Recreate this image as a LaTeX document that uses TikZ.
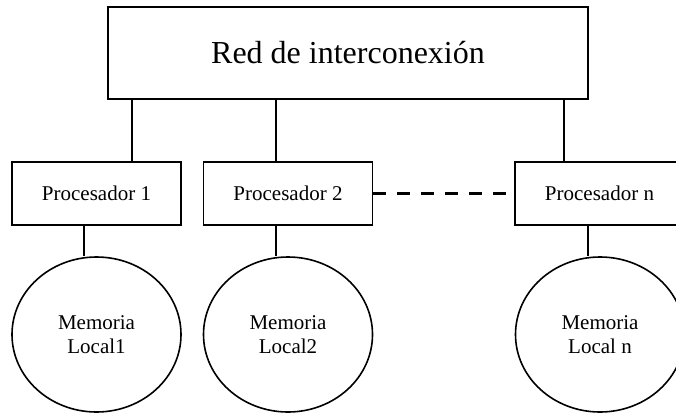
\documentclass[tikz,border=0pt]{standalone}
\usepackage{fontspec}
\setmainfont{Liberation Serif}
\usetikzlibrary{shapes.geometric}
\tikzset{
  boxline/.style={line width=1.6pt},
  netbox/.style={draw, boxline, rectangle, minimum width=480pt, minimum height=92pt, inner sep=0pt, font=\fontsize{32}{38}\selectfont},
  procbox/.style={draw, boxline, rectangle, minimum width=169pt, minimum height=63pt, inner sep=0pt, font=\fontsize{21}{25}\selectfont},
  membox/.style={draw, boxline, ellipse, minimum width=169pt, minimum height=155pt, inner sep=0pt, align=center, font=\fontsize{21}{24}\selectfont},
  link/.style={boxline},
  dashlink/.style={line width=2.6pt, dash pattern=on 13pt off 11pt}
}
\begin{document}
\begin{tikzpicture}[x=1pt,y=-1pt]
\useasboundingbox (0,0) rectangle (676,412);
\node[netbox] (net) at (348,53) {Red de interconexión};
\node[procbox] (p1) at (96.5,193.5) {Procesador 1};
\node[procbox] (p2) at (288,193.5) {Procesador 2};
\node[procbox] (pn) at (599.5,193.5) {Procesador n};
\node[membox] (m1) at (96.5,334.5) {Memoria\\Local1};
\node[membox] (m2) at (288,334.5) {Memoria\\Local2};
\node[membox] (mn) at (600,334.5) {Memoria\\Local n};
\draw[link] (net.south -| 132,0) -- (p1.north -| 132,0);
\draw[link] (net.south -| 276,0) -- (p2.north -| 276,0);
\draw[link] (net.south -| 564,0) -- (pn.north -| 564,0);
\draw[link] (p1.south -| 84,0) -- (m1.north -| 84,0);
\draw[link] (p2.south -| 276,0) -- (m2.north -| 276,0);
\draw[link] (pn.south -| 588,0) -- (mn.north -| 588,0);
\draw[dashlink] (p2.east) -- (pn.west);
\end{tikzpicture}
\end{document}
